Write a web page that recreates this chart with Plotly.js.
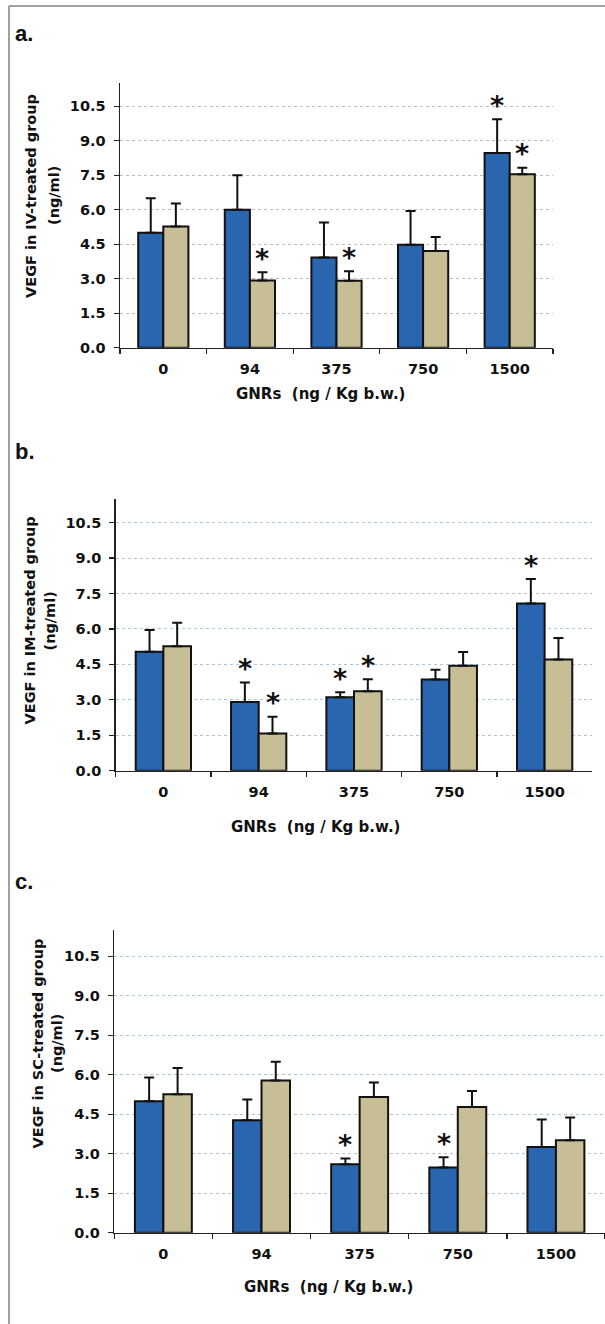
<!DOCTYPE html>
<html>
<head>
<meta charset="utf-8">
<script src="https://cdn.plot.ly/plotly-3.0.1.min.js"></script>
<style>
html,body{margin:0;padding:0;background:#fff;overflow:hidden;}
#chart{width:605px;height:1324px;}
</style>
</head>
<body>
<div id="chart"></div>
<script>
// ---------------- DATA ----------------
const doses = ['0', '94', '375', '750', '1500'];

// a. IV-treated group
const ivBlue    = [5.00, 6.00, 3.92, 4.48, 8.47];
const ivBlueErr = [1.50, 1.50, 1.53, 1.47, 1.47];
const ivTan     = [5.27, 2.92, 2.91, 4.21, 7.54];
const ivTanErr  = [1.00, 0.36, 0.41, 0.60, 0.29];
const ivBlueSig = [false, false, false, false, true];
const ivTanSig  = [false, true, true, false, true];

// b. IM-treated group
const imBlue    = [5.03, 2.91, 3.11, 3.86, 7.08];
const imBlueErr = [0.93, 0.82, 0.21, 0.41, 1.03];
const imTan     = [5.27, 1.57, 3.36, 4.44, 4.71];
const imTanErr  = [0.99, 0.71, 0.51, 0.58, 0.91];
const imBlueSig = [false, true, true, false, true];
const imTanSig  = [false, true, true, false, false];

// c. SC-treated group
const scBlue    = [4.99, 4.27, 2.60, 2.48, 3.26];
const scBlueErr = [0.91, 0.79, 0.22, 0.39, 1.04];
const scTan     = [5.26, 5.78, 5.16, 4.78, 3.51];
const scTanErr  = [1.00, 0.71, 0.55, 0.60, 0.87];
const scBlueSig = [false, false, true, true, false];
const scTanSig  = [false, false, false, false, false];

const panelLabels = ['a.', 'b.', 'c.'];
const yTitles = ['VEGF in IV-treated group', 'VEGF in IM-treated group', 'VEGF in SC-treated group'];
const yUnit = '(ng/ml)';
const xTitle = 'GNRs\u00a0 (ng / Kg b.w.)';

// ---------------- LAYOUT ----------------
const W = 605, H = 1324;
const px = v => v / W;
const py = v => 1 - v / H;
const BLUE = 'rgb(42,101,176)';
const TAN = 'rgb(199,190,150)';
const FONT = 'DejaVu Sans';
const BARGAP = 0.42;

const panels = [
  {blue: ivBlue, blueErr: ivBlueErr, tan: ivTan, tanErr: ivTanErr, bSig: ivBlueSig, tSig: ivTanSig,
   x0: 120, x1: 553, yTop: 83.3, yBot: 347.7, grid: '#bdbdbd',
   lab: [13, 34], t1: [31, 196], t2: [54, 196], xt: [320, 394]},
  {blue: imBlue, blueErr: imBlueErr, tan: imTan, tanErr: imTanErr, bSig: imBlueSig, tSig: imTanSig,
   x0: 115.7, x1: 592.3, yTop: 499, yBot: 770.7, grid: '#a9c6dd',
   lab: [13, 451], t1: [29.5, 621], t2: [49.5, 621], xt: [315, 827]},
  {blue: scBlue, blueErr: scBlueErr, tan: scTan, tanErr: scTanErr, bSig: scBlueSig, tSig: scTanSig,
   x0: 114.3, x1: 605, yTop: 930, yBot: 1232.7, grid: '#a9c6dd',
   lab: [13, 882], t1: [37.5, 1044], t2: [57, 1044], xt: [328.5, 1287]}
];

const data = [];
const layout = {
  width: W, height: H,
  margin: {l: 0, r: 0, t: 0, b: 0},
  paper_bgcolor: '#fff', plot_bgcolor: '#fff',
  showlegend: false,
  barmode: 'group', bargap: BARGAP, bargroupgap: 0,
  annotations: [],
  shapes: [
    {type: 'line', xref: 'paper', yref: 'paper', x0: px(9), x1: 1, y0: py(6), y1: py(6), line: {color: '#808080', width: 1.5}},
    {type: 'line', xref: 'paper', yref: 'paper', x0: px(9), x1: px(9), y0: py(6), y1: 0, line: {color: '#808080', width: 1.5}}
  ]
};

const zeros = doses.map(() => 0);
const tickFont = {family: FONT, size: 14.5, color: '#111', weight: 'bold'};

panels.forEach((p, k) => {
  const sfx = k === 0 ? '' : String(k + 1);
  const xa = 'x' + sfx, ya = 'y' + sfx;
  const errStyle = {type: 'data', symmetric: false, arrayminus: zeros, color: '#111', thickness: 2, width: 5};
  data.push({type: 'bar', x: doses, y: p.blue, xaxis: xa, yaxis: ya,
    marker: {color: BLUE, line: {color: '#111', width: 2}},
    error_y: Object.assign({array: p.blueErr}, errStyle), hoverinfo: 'skip'});
  data.push({type: 'bar', x: doses, y: p.tan, xaxis: xa, yaxis: ya,
    marker: {color: TAN, line: {color: '#111', width: 2}},
    error_y: Object.assign({array: p.tanErr}, errStyle), hoverinfo: 'skip'});

  layout['xaxis' + sfx] = {
    domain: [px(p.x0), px(p.x1)], anchor: ya,
    type: 'category', categoryorder: 'array', categoryarray: doses, range: [-0.5, 4.5],
    tickson: 'boundaries', ticks: 'outside', ticklen: 5, tickwidth: 1.3, tickcolor: '#222',
    showline: true, linecolor: '#222', linewidth: 1.5, showgrid: false, zeroline: false,
    tickfont: tickFont, ticklabelstandoff: 7, fixedrange: true
  };
  layout['yaxis' + sfx] = {
    domain: [py(p.yBot), py(p.yTop)], anchor: xa,
    range: [0, 11.5], tick0: 0, dtick: 1.5, tickformat: '.1f',
    ticks: 'outside', ticklen: 5, tickwidth: 1.3, tickcolor: '#222',
    showline: true, linecolor: '#222', linewidth: 1.5,
    showgrid: true, gridcolor: p.grid, griddash: 'dot', gridwidth: 1,
    zeroline: false, tickfont: tickFont, ticklabelstandoff: 5, fixedrange: true
  };

  // significance asterisks above error bars (x given as category index)
  const barW = (p.x1 - p.x0) / doses.length * (1 - BARGAP) / 2;
  const addStar = (vals, errs, sig, side) => {
    sig.forEach((s, i) => {
      if (!s) return;
      layout.annotations.push({xref: xa, yref: ya, x: i, y: vals[i] + errs[i],
        xshift: side * barW / 2, yshift: 14, text: '*', showarrow: false,
        xanchor: 'center', yanchor: 'middle',
        font: {family: FONT, size: 27, color: '#111', weight: 'bold'}});
    });
  };
  addStar(p.blue, p.blueErr, p.bSig, -1);
  addStar(p.tan, p.tanErr, p.tSig, 1);

  // panel label
  layout.annotations.push({xref: 'paper', yref: 'paper', x: px(p.lab[0]), y: py(p.lab[1]),
    xanchor: 'left', yanchor: 'middle', showarrow: false, text: panelLabels[k],
    font: {family: 'Liberation Sans', size: 22, color: '#111', weight: 'bold'}});
  // y title (two lines)
  layout.annotations.push({xref: 'paper', yref: 'paper', x: px(p.t1[0]), y: py(p.t1[1]),
    xanchor: 'center', yanchor: 'middle', showarrow: false, textangle: -90, text: yTitles[k],
    font: {family: FONT, size: 14.5, color: '#111', weight: 'bold'}});
  layout.annotations.push({xref: 'paper', yref: 'paper', x: px(p.t2[0]), y: py(p.t2[1]),
    xanchor: 'center', yanchor: 'middle', showarrow: false, textangle: -90, text: yUnit,
    font: {family: FONT, size: 14.5, color: '#111', weight: 'bold'}});
  // x title
  layout.annotations.push({xref: 'paper', yref: 'paper', x: px(p.xt[0]), y: py(p.xt[1]),
    xanchor: 'center', yanchor: 'middle', showarrow: false, text: xTitle,
    font: {family: FONT, size: 15, color: '#111', weight: 'bold'}});
});

Plotly.newPlot('chart', data, layout, {staticPlot: true, displayModeBar: false});
</script>
</body>
</html>
